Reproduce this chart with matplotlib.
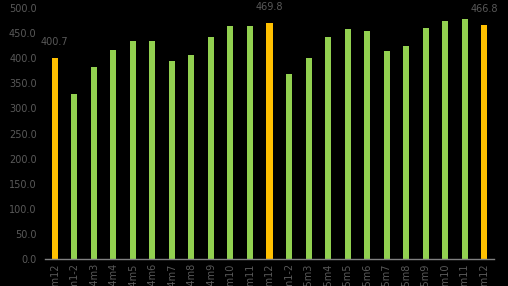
import matplotlib
matplotlib.use("Agg")
import matplotlib.pyplot as plt
import numpy as np

# monthly values, Dec 2013 .. Dec 2015 (Jan-Feb merged)
labels = ["2013m12", "2014m1-2", "2014m3", "2014m4", "2014m5", "2014m6", "2014m7",
          "2014m8", "2014m9", "2014m10", "2014m11", "2014m12",
          "2015m1-2", "2015m3", "2015m4", "2015m5", "2015m6", "2015m7",
          "2015m8", "2015m9", "2015m10", "2015m11", "2015m12"]
values = [400.7, 328.0, 381.8, 415.7, 433.7, 433.7, 393.8, 405.8, 441.6, 463.5, 463.5, 469.8,
          367.9, 399.8, 441.6, 457.5, 453.5, 413.7, 423.7, 459.5, 473.3, 477.3, 466.8]
highlight = [0, 11, 22]  # December bars

green = "#92D050"
yellow = "#FFC000"
grey = "#595959"

colors = [yellow if i in highlight else green for i in range(len(values))]
x = np.arange(len(values))

fig = plt.figure(figsize=(5.08, 2.86), dpi=100, facecolor="black")
ax = fig.add_axes([0.0886, 0.0944, 0.8838, 0.8776], facecolor="black")

ax.bar(x, values, width=0.31, color=colors)

for i in highlight:
    ax.annotate(f"{values[i]:.1f}", (x[i], values[i]), xytext=(0, 8),
                textcoords="offset points", ha="center", va="bottom",
                color=grey, fontsize=7)

ax.set_ylim(0, 500)
ax.set_xlim(-0.5, len(values) - 0.5)
ax.set_yticks(np.arange(0, 501, 50))
ax.set_yticklabels([f"{v:.1f}" for v in np.arange(0, 501, 50)])
ax.set_xticks(x)
ax.set_xticklabels(labels, rotation=90)
ax.tick_params(axis="y", length=0, pad=6, labelcolor=grey, labelsize=7)
ax.tick_params(axis="x", length=0, pad=3, labelcolor=grey, labelsize=7)

for s in ["top", "right", "left"]:
    ax.spines[s].set_visible(False)
ax.spines["bottom"].set_color("#808080")
ax.spines["bottom"].set_linewidth(1)

fig.savefig("out.png", dpi=100, facecolor="black")
